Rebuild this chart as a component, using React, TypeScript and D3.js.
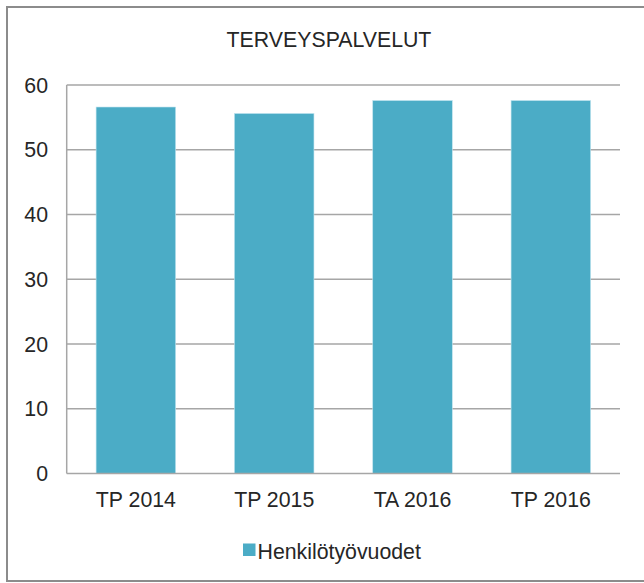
import React from 'react';
import * as d3 from 'd3';

const categories = ['TP 2014', 'TP 2015', 'TA 2016', 'TP 2016'];
const values = [56.6, 55.6, 57.6, 57.6];
const yTicks = [0, 10, 20, 30, 40, 50, 60];
const seriesName = 'Henkilötyövuodet';
const title = 'TERVEYSPALVELUT';

const App = () => {
  const width = 644;
  const height = 583;
  const margin = { top: 85, right: 24, bottom: 109.5, left: 66.7 };
  const font = '"Liberation Sans", Arial, sans-serif';
  const fs = 21.3;
  const barColor = '#4bacc6';
  const gridColor = '#a6a6a6';
  const textColor = '#262626';

  const x = d3.scaleBand()
    .domain(categories)
    .range([margin.left, width - margin.right])
    .paddingInner(0.425)
    .paddingOuter(0.2125);

  const y = d3.scaleLinear()
    .domain([0, 60])
    .range([height - margin.bottom, margin.top]);

  return (
    <svg width={width} height={height}
      style={{ position: 'absolute', left: 0, top: 0, background: '#fff' }}
      fontFamily={font}>
      {/* chart frame, cut off at the right edge */}
      <rect x={7} y={7} width={width + 10} height={574} fill="none" stroke="#8c8c8c" strokeWidth={2} />

      <text x={329} y={46.5} textAnchor="middle" fontSize={fs} fill={textColor}>{title}</text>

      {yTicks.map(t => (
        <g key={t}>
          {t > 0 && (
            <line x1={margin.left} x2={width - margin.right} y1={y(t)} y2={y(t)}
              stroke={gridColor} strokeWidth={1.5} />
          )}
          <text x={48} y={y(t)} dy="0.36em" textAnchor="end" fontSize={fs} fill={textColor}>{t}</text>
        </g>
      ))}

      {categories.map((c, i) => (
        <rect key={c} x={x(c)} y={y(values[i])} width={x.bandwidth()} height={y(0) - y(values[i])}
          fill={barColor} stroke="#bfe3ee" strokeWidth={0.6} />
      ))}

      <line x1={margin.left} x2={margin.left} y1={y(60)} y2={y(0)} stroke={gridColor} strokeWidth={1.5} />
      <line x1={margin.left} x2={width - margin.right} y1={y(0)} y2={y(0)} stroke={gridColor} strokeWidth={1.5} />

      {categories.map(c => (
        <text key={c} x={x(c) + x.bandwidth() / 2} y={507} textAnchor="middle" fontSize={fs} fill={textColor}>{c}</text>
      ))}

      <g transform="translate(243,543.5)">
        <rect x={0} y={0} width={12.5} height={12.5} fill={barColor} />
        <text x={14.5} y={15.5} fontSize={fs} fill={textColor}>{seriesName}</text>
      </g>
    </svg>
  );
};

export default App;
